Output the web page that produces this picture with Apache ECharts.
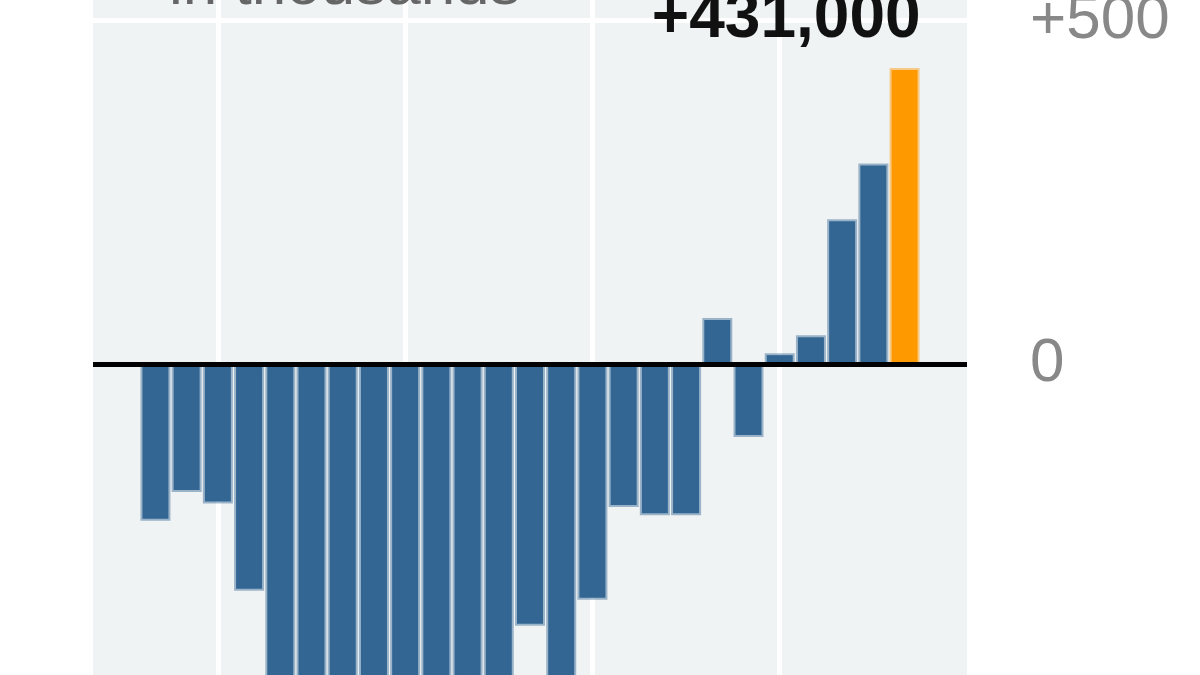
<!DOCTYPE html>
<html>
<head>
<meta charset="utf-8">
<script src="https://cdn.jsdelivr.net/npm/echarts@6/dist/echarts.min.js"></script>
<style>
html,body{margin:0;padding:0;background:#fff;}
#chart{width:1200px;height:675px;}
</style>
</head>
<body>
<div id="chart"></div>
<script>
// Monthly change in payroll employment, in thousands
const months = ['2008-05','2008-06','2008-07','2008-08','2008-09','2008-10','2008-11','2008-12',
  '2009-01','2009-02','2009-03','2009-04','2009-05','2009-06','2009-07','2009-08','2009-09',
  '2009-10','2009-11','2009-12','2010-01','2010-02','2010-03','2010-04','2010-05'];
const jobChanges = [-228,-186,-203,-330,-470,-490,-800,-660,-820,-725,-800,-690,-381,-480,
  -343,-208,-220,-220,67,-106,16,42,211,292,431];
const yTicks = [0, 500];
const titleText = 'in thousands';

const highlightIndex = jobChanges.length - 1;
const gridMonths = months.map((m, i) => ({m, i})).filter(d => d.m.endsWith('-01') || d.m.endsWith('-07')).map(d => d.i);

const barData = jobChanges.map((v, i) => {
  const item = { value: [i, v] };
  if (i === highlightIndex) {
    item.itemStyle = { color: '#ff9900', borderColor: 'rgba(255,153,0,0.45)' };
    item.label = {
      show: true, position: 'top', distance: 17, align: 'right', offset: [16, 0],
      formatter: '+' + (v * 1000).toLocaleString('en-US'),
      fontFamily: 'Liberation Sans', fontSize: 64, fontWeight: 'bold', color: '#111'
    };
  }
  return item;
});

const chart = echarts.init(document.getElementById('chart'));
chart.setOption({
  animation: false,
  backgroundColor: '#ffffff',
  title: {
    text: titleText, left: 164, top: -49,
    textStyle: { fontFamily: 'Liberation Sans', fontSize: 62, fontWeight: 'normal', color: '#666' }
  },
  grid: {
    left: 93, width: 874, top: -48, height: 1099, outerBoundsMode: 'none', containLabel: false,
    show: true, backgroundColor: '#eff3f4', borderWidth: 0
  },
  xAxis: {
    type: 'value', min: -2, max: 26, z: 5,
    axisLine: { show: true, onZero: true, lineStyle: { color: '#000', width: 5, cap: 'butt' } },
    axisTick: { show: false }, axisLabel: { show: false }, splitLine: { show: false }
  },
  yAxis: {
    type: 'value', position: 'right', min: -1000, max: 600, interval: 500,
    axisLine: { show: false }, axisTick: { show: false },
    splitLine: { show: true, lineStyle: { color: '#ffffff', width: 5 } },
    axisLabel: {
      margin: 63, align: 'left', fontFamily: 'Liberation Sans', fontSize: 62, color: '#888',
      formatter: v => yTicks.includes(v) ? (v > 0 ? '+' + v : String(v)) : ''
    }
  },
  series: [
    {
      type: 'line', data: [], z: 1, silent: true,
      markLine: {
        z: 1, silent: true, symbol: 'none', label: { show: false },
        lineStyle: { color: '#ffffff', width: 5, type: 'solid' },
        data: gridMonths.map(i => ({ xAxis: i }))
      }
    },
    {
      type: 'bar', z: 2, barWidth: 30,
      itemStyle: { color: '#336692', borderColor: 'rgba(51,102,146,0.45)', borderWidth: 4 },
      data: barData
    }
  ]
});
</script>
</body>
</html>
